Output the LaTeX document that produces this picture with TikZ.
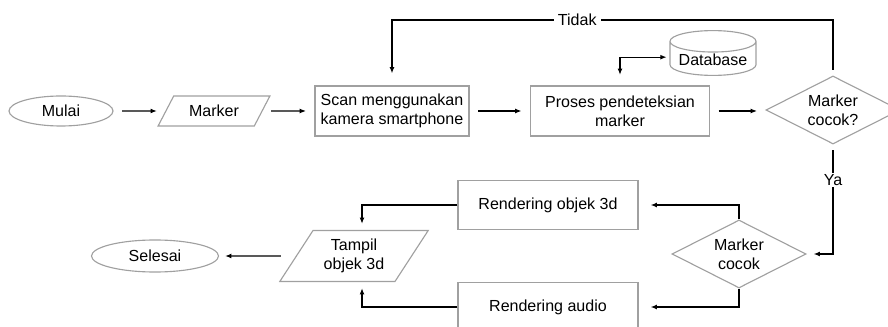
\documentclass[tikz,border=0pt]{standalone}
\usepackage{fontspec}
\setmainfont{Liberation Sans}
\usepackage{tikz}
\usetikzlibrary{shapes.geometric,arrows.meta}
\definecolor{edge}{RGB}{160,160,160}

\begin{document}
\begin{tikzpicture}[x=0.025cm,y=-0.025cm,
  every node/.style={font=\fontsize{11.4}{13.5}\selectfont,align=center,inner sep=1pt},
  box/.style={draw=edge,line width=0.8pt,fill=white},
  proc/.style={box,rectangle},
  term/.style={box,ellipse},
  io/.style={box,trapezium,trapezium left angle=55,trapezium right angle=125,trapezium stretches=true},
  cond/.style={box,diamond,aspect=2,inner sep=0pt,minimum width=3.35cm,minimum height=1.7cm},
  arrowln/.style={line width=0.8pt,-{Latex[length=4.5pt,width=3.5pt]},shorten <=6pt,shorten >=6pt},
  loopln/.style={arrowln,line width=1.4pt}]
\useasboundingbox (0,0) rectangle (888,327);

% top row
\node[term,minimum width=2.6cm,minimum height=0.75cm] (mulai) at (61,111) {Mulai};
\node[io,minimum width=2.8cm,minimum height=0.75cm] (marker) at (214,111) {Marker};
\node[proc,align=left,minimum width=3.85cm,minimum height=1.25cm] (scan) at (392,111) {Scan menggunakan\\kamera smartphone};
\node[proc,minimum width=4.475cm,minimum height=1.25cm] (proses) at (620,111) {Proses pendeteksian\\marker};
\node[box,cylinder,shape border rotate=90,aspect=0.3,minimum width=2.15cm,minimum height=1.12cm] (db) at (713,60) {Database};
\node[cond] (cek) at (833,110) {Marker\\cocok?};

% bottom row
\node[proc,minimum width=4.5cm,minimum height=1.225cm] (render3d) at (548,205) {Rendering objek 3d};
\node[proc,minimum width=4.5cm,minimum height=1.225cm] (audio) at (548,307) {Rendering audio};
\node[cond] (cocok) at (739,254) {Marker\\cocok};
\node[io,minimum width=3.725cm,minimum height=1.275cm] (tampil) at (354,256) {Tampil\\objek 3d};
\node[term,minimum width=3.175cm,minimum height=0.8cm] (selesai) at (155,256) {Selesai};

% connectors
\draw[arrowln] (mulai) -- (marker);
\draw[arrowln] (marker) -- (scan);
\draw[arrowln] (scan) -- (proses);
\draw[arrowln] (proses.east) -- (proses.east -| cek.west);
\draw[arrowln,{Latex[length=4.5pt,width=3.5pt]}-{Latex[length=4.5pt,width=3.5pt]},shorten <=7.5pt,shorten >=2pt] (proses.north) |- ([yshift=2pt]db.west);
\draw[loopln,shorten <=4pt,shorten >=8.5pt] (cek.north) |- (scan.north |- 0,20)
  node[pos=0.79,fill=white,inner xsep=3pt] (tidak) {Tidak} -- (scan.north);
\draw[loopln,shorten <=4pt,shorten >=5pt] (cek.south) |- node[pos=0.16,fill=white] (ya) {Ya} (cocok.east);
\draw[loopln,shorten <=0pt,shorten >=8.5pt] (cocok.north) |- (render3d.east);
\draw[loopln,shorten <=0pt,shorten >=8.5pt] (cocok.south) |- (audio.east);
\draw[loopln,shorten <=0pt,shorten >=4.3pt] (render3d.west) -| ([xshift=5.7pt]tampil.north);
\draw[loopln,shorten <=0pt,shorten >=4.3pt] (audio.west) -| ([xshift=5.7pt]tampil.south);
\draw[arrowln,shorten <=10.5pt,shorten >=4.3pt] (tampil) -- (selesai);

\end{tikzpicture}
\end{document}
